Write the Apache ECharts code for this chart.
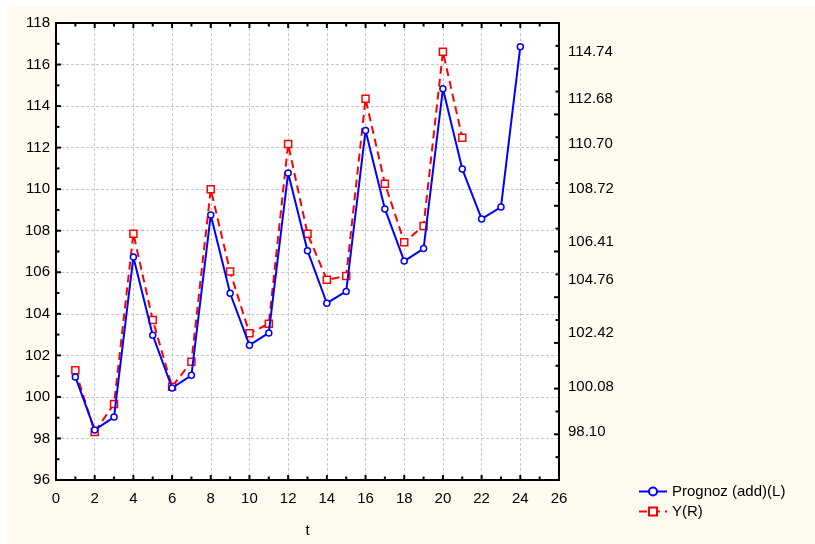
<!DOCTYPE html>
<html>
<head>
<meta charset="utf-8">
<script src="https://cdn.jsdelivr.net/npm/echarts@6/dist/echarts.min.js"></script>
<style>
  html, body { margin: 0; padding: 0; background: #ffffff; }
  #panel { position: absolute; left: 7px; top: 6px; width: 808px; height: 538px; background: #fefaf0; }
  #plotbg { position: absolute; left: 56px; top: 23px; width: 503px; height: 457px; background: #ffffff; }
  #chart { position: absolute; left: 0; top: 0; width: 815px; height: 544px; }
</style>
</head>
<body>
<div id="panel"></div>
<div id="plotbg"></div>
<div id="chart"></div>
<script>
// time index
const tPrognoz = [1,2,3,4,5,6,7,8,9,10,11,12,13,14,15,16,17,18,19,20,21,22,23,24];
const tY = [1,2,3,4,5,6,7,8,9,10,11,12,13,14,15,16,17,18,19,20,21];

// additive model forecast (left axis)
const prognoz = [100.96, 98.41, 99.03, 106.74, 102.97, 100.43, 101.04, 108.76, 104.99, 102.49,
                 103.08, 110.78, 107.04, 104.51, 105.08, 112.82, 109.05, 106.54, 107.14, 114.83,
                 110.97, 108.57, 109.14, 116.86];

// observed series (right axis)
const yObs = [100.80, 98.10, 99.33, 106.78, 103.00, 100.08, 101.18, 108.72, 105.12, 102.42,
              102.84, 110.70, 106.78, 104.76, 104.93, 112.68, 108.97, 106.41, 107.12, 114.74,
              110.98];

// right-axis labelled values
const rightLabels = [98.10, 100.08, 102.42, 104.76, 106.41, 108.72, 110.70, 112.68, 114.74];

// tick positions (major on even values, minor on odd)
const xTickVals = [0,1,2,3,4,5,6,7,8,9,10,11,12,13,14,15,16,17,18,19,20,21,22,23,24,25,26];
const leftTickVals = [96,97,98,99,100,101,102,103,104,105,106,107,108,109,110,111,112,113,114,115,116,117,118];
const rightTickVals = [96,97,98,99,100,101,102,103,104,105,106,107,108,109,110,111,112,113,114,115,116];

const X_MIN = 0, X_MAX = 26, L_MIN = 96, L_MAX = 118, R_MIN = 96, R_MAX = 116;

const FONT = 'Liberation Sans, Arial, sans-serif';
const txt = { color: '#000', fontFamily: FONT, fontSize: 15 };

const chart = echarts.init(document.getElementById('chart'), null, { renderer: 'canvas' });

const axisLine = () => ({ show: true, onZero: false, lineStyle: { color: '#000', width: 2 } });
const split = () => ({ show: true, lineStyle: { color: '#c8c8c8', type: [3, 2], width: 1 } });

chart.setOption({
  backgroundColor: 'transparent',
  animation: false,
  grid: { left: 56, top: 23, right: 256, bottom: 64 },
  legend: {
    orient: 'vertical',
    left: 633, top: 479,
    itemWidth: 28, itemHeight: 10, itemGap: 5,
    textStyle: txt,
    data: ['Prognoz (add)(L)', 'Y(R)']
  },
  xAxis: [
    {
      type: 'value', position: 'bottom', min: X_MIN, max: X_MAX, interval: 2,
      axisLine: axisLine(), axisTick: { show: false },
      axisLabel: Object.assign({ margin: 11 }, txt),
      splitLine: split(),
      name: 't', nameLocation: 'middle', nameGap: 43,
      nameTextStyle: txt
    },
    {
      type: 'value', position: 'top', min: X_MIN, max: X_MAX, interval: 2,
      axisLine: axisLine(), axisTick: { show: false },
      axisLabel: { show: false },
      splitLine: { show: false }
    }
  ],
  yAxis: [
    {
      type: 'value', position: 'left', min: L_MIN, max: L_MAX, interval: 2,
      axisLine: axisLine(), axisTick: { show: false },
      axisLabel: Object.assign({ margin: 6 }, txt),
      splitLine: split()
    },
    {
      type: 'value', position: 'right', min: R_MIN, max: R_MAX,
      axisLine: axisLine(), axisTick: { show: false },
      axisLabel: Object.assign({
        margin: 9,
        customValues: rightLabels,
        formatter: v => Number(v).toFixed(2)
      }, txt),
      splitLine: { show: false }
    }
  ],
  series: [
    {
      name: 'Prognoz (add)(L)',
      type: 'line',
      xAxisIndex: 0, yAxisIndex: 0,
      data: tPrognoz.map((t, i) => [t, prognoz[i]]),
      symbol: 'circle', symbolSize: 6,
      lineStyle: { color: '#0000ff', width: 2 },
      itemStyle: { color: '#ffffff', borderColor: '#0000ff', borderWidth: 1.5 },
      z: 3
    },
    {
      name: 'Y(R)',
      type: 'line',
      xAxisIndex: 0, yAxisIndex: 1,
      data: tY.map((t, i) => [t, yObs[i]]),
      symbol: 'rect', symbolSize: 7,
      lineStyle: { color: '#ff0000', width: 2, type: [8, 5] },
      itemStyle: { color: '#ffffff', borderColor: '#ff0000', borderWidth: 1.5 },
      z: 2
    }
  ]
});

// inward frame ticks, positioned through the axis scales
const tickLen = v => (v % 2 === 0 ? 5 : 3.5);
const tickEl = (x1, y1, x2, y2) => ({
  type: 'line', silent: true, z: 100,
  shape: { x1: x1, y1: y1, x2: x2, y2: y2 },
  style: { stroke: '#000', lineWidth: 2 }
});

const yBottom = chart.convertToPixel({ yAxisIndex: 0 }, L_MIN);
const yTop = chart.convertToPixel({ yAxisIndex: 0 }, L_MAX);
const xLeft = chart.convertToPixel({ xAxisIndex: 0 }, X_MIN);
const xRight = chart.convertToPixel({ xAxisIndex: 0 }, X_MAX);

const ticks = [];
xTickVals.forEach(v => {
  const x = chart.convertToPixel({ xAxisIndex: 0 }, v), len = tickLen(v);
  ticks.push(tickEl(x, yBottom, x, yBottom - len));
  ticks.push(tickEl(x, yTop, x, yTop + len));
});
leftTickVals.forEach(v => {
  const y = chart.convertToPixel({ yAxisIndex: 0 }, v);
  ticks.push(tickEl(xLeft, y, xLeft + tickLen(v), y));
});
rightTickVals.forEach(v => {
  const y = chart.convertToPixel({ yAxisIndex: 1 }, v);
  ticks.push(tickEl(xRight, y, xRight - tickLen(v), y));
});

chart.setOption({ graphic: { elements: ticks } });
</script>
</body>
</html>
